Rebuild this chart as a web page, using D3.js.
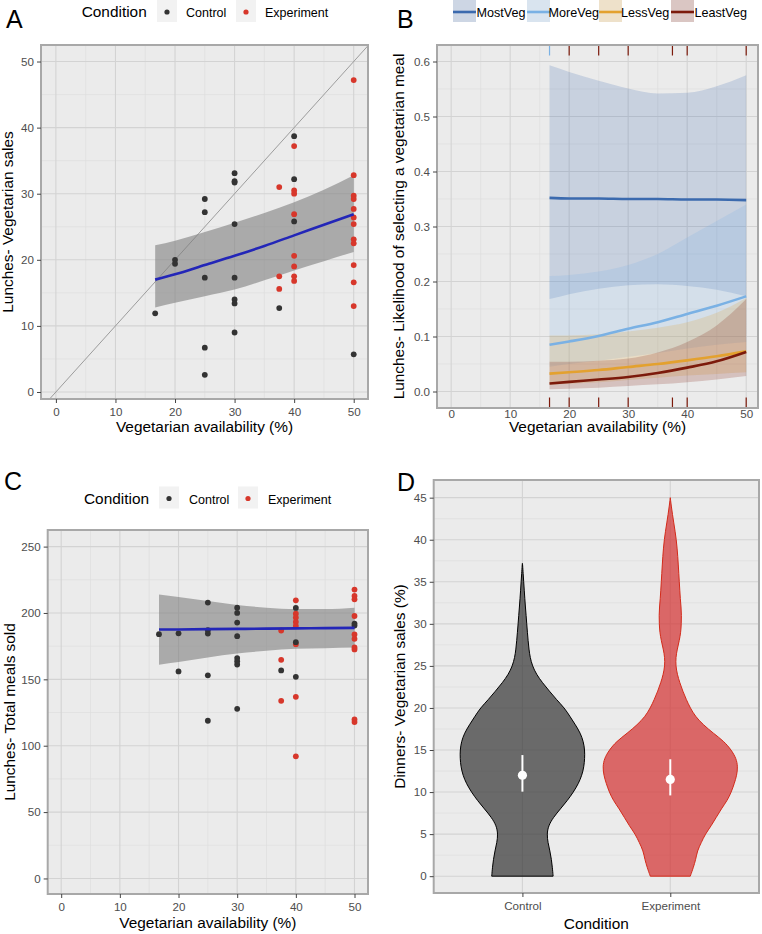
<!DOCTYPE html>
<html><head><meta charset="utf-8">
<script src="https://cdn.jsdelivr.net/npm/d3@7"></script>
<style>
body{margin:0;background:#fff}
svg{display:block}
text{font-family:"Liberation Sans",Arial,Helvetica,sans-serif}
</style>
</head><body>
<svg id="c" width="762" height="934"></svg>
<script>
// ---------------- DATA ----------------
const conditions = ["Control", "Experiment"];
const xTicks = [0, 10, 20, 30, 40, 50];

// Panel A: lunches vegetarian sales vs availability
const aCtrlX = [16.67,20,20,25,25,25,25,25,30,30,30,30,30,30,30,30,37.5,40,40,40,50];
const aCtrlY = [11.9,20.0,19.4,29.2,27.2,17.3,6.7,2.6,33.1,31.9,31.7,25.4,17.3,14.0,13.4,9.0,12.7,38.7,32.2,25.8,5.7];
const aExpX = [37.5,37.5,37.5,40,40,40,40,40,40,40,40,50,50,50,50,50,50,50,50,50,50,50,50];
const aExpY = [31.0,17.5,15.6,37.2,30.5,30.0,26.9,20.6,19.0,17.5,16.8,47.2,32.8,29.7,29.2,27.7,26.4,25.4,23.1,22.5,19.2,16.6,13.0];
const fitX = [16.67, 20, 25, 30, 35, 40, 45, 50];
const aFit = [17.0, 17.8, 19.2, 20.6, 22.1, 23.7, 25.3, 26.9];
const aHi  = [22.2, 22.9, 24.2, 25.6, 27.1, 28.7, 30.6, 32.8];
const aLo  = [12.8, 13.5, 14.5, 15.5, 16.9, 18.4, 19.8, 21.2];
const aYTicks = [0, 10, 20, 30, 40, 50];

// Panel B: likelihood of selecting a vegetarian meal
const groups = ["MostVeg", "MoreVeg", "LessVeg", "LeastVeg"];
const groupColors = ["#3b6aae", "#7ab1e4", "#e3a12f", "#7c1a0b"];
const bFit = {
  MostVeg:  [0.352, 0.351, 0.351, 0.350, 0.350, 0.349, 0.349, 0.348],
  MoreVeg:  [0.085, 0.091, 0.101, 0.114, 0.126, 0.141, 0.156, 0.173],
  LessVeg:  [0.0325, 0.035, 0.039, 0.0446, 0.050, 0.0566, 0.064, 0.073],
  LeastVeg: [0.0145, 0.0175, 0.0217, 0.0265, 0.0338, 0.0434, 0.0548, 0.0718]
};
const bHi = {
  MostVeg:  [0.593, 0.581, 0.565, 0.551, 0.542, 0.543, 0.555, 0.575],
  MoreVeg:  [0.210, 0.212, 0.218, 0.230, 0.250, 0.280, 0.310, 0.340],
  LessVeg:  [0.102, 0.102, 0.104, 0.109, 0.116, 0.126, 0.143, 0.170],
  LeastVeg: [0.054, 0.054, 0.056, 0.060, 0.071, 0.090, 0.120, 0.168]
};
const bLo = {
  MostVeg:  [0.168, 0.177, 0.187, 0.193, 0.195, 0.192, 0.185, 0.173],
  MoreVeg:  [0.045, 0.050, 0.056, 0.063, 0.070, 0.078, 0.085, 0.090],
  LessVeg:  [0.012, 0.014, 0.017, 0.021, 0.025, 0.029, 0.032, 0.035],
  LeastVeg: [0.004, 0.005, 0.007, 0.010, 0.013, 0.017, 0.022, 0.028]
};
const rugX = [16.67, 20, 25, 30, 37.5, 40, 50];
const rugTopGroup = ["MoreVeg", "LeastVeg", "LeastVeg", "LeastVeg", "LeastVeg", "LeastVeg", "LeastVeg"];
const rugBottomGroup = ["LeastVeg", "LeastVeg", "LeastVeg", "LeastVeg", "LeastVeg", "LeastVeg", "LeastVeg"];
const bYTicks = [0, 0.1, 0.2, 0.3, 0.4, 0.5, 0.6];

// Panel C: total meals sold
const cCtrlX = [16.67,20,20,25,25,25,25,25,30,30,30,30,30,30,30,30,37.5,40,40,40,50,50];
const cCtrlY = [184,184.7,156,207.8,187,184.5,153,118.8,204,200,192.8,182.5,166,163.7,161.2,127.8,156.7,203.8,178,151.9,192,190.5];
const cExpX = [37.5,37.5,37.5,40,40,40,40,40,40,40,40,50,50,50,50,50,50,50,50,50,50];
const cExpY = [186.8,164.7,133.8,209.5,199.5,196.5,193.2,190.2,176.5,136.8,92,217.6,212.8,210.3,197.7,183.8,180.5,174,172.5,119.8,117.8];
const cFit = [187.5, 187.6, 187.8, 188.0, 188.2, 188.4, 188.6, 188.8];
const cHi  = [214, 212, 209, 206, 204, 203, 203, 204];
const cLo  = [161, 163, 166.5, 169.5, 171.5, 173, 173.5, 174];
const cYTicks = [0, 50, 100, 150, 200, 250];

// Panel D: dinners vegetarian sales violins (density expressed as half-width units)
const ctrlViolinV = [0,1,2,3,4,5,6,7,8,9,10,11,12,13,14,15,16,17,18,19,20,21,22,23,24,25,26,27,28,29,30,31,32,33,34,35,36,37,37.2];
const ctrlViolinD = [30.7,30,29,27.5,25.5,24.5,26,31,38,45,51,56,59.5,61.5,62.3,62.3,61,58,53,47.5,42,34,27,20,14,10,7.7,6.5,5.7,5,4.3,3.7,3,2.4,1.8,1.3,0.7,0.2,0];
const expViolinV = [0,1,2,3,4,5,6,7,8,9,10,11,12,13,14,15,16,17,18,19,20,21,22,23,24,25,26,27,28,29,30,31,32,33,34,35,36,37,38,39,40,41,42,43,44,45];
const expViolinD = [20,23,25.5,27,31,35,41,46,51,57,61,64,66.5,67.5,66,61,54,43,33,25,20,16,12.5,9.5,7,5.5,5.5,7,9,10.5,11,11.2,10.8,10,9.5,9,8.5,8,7.5,6.8,6,4.8,3.5,2.2,1,0];
const dMean = [12.0, 11.5];
const dLow  = [10.05, 9.6];
const dHigh = [14.4, 13.9];
const dYTicks = [0, 5, 10, 15, 20, 25, 30, 35, 40, 45];

// ---------------- HELPERS ----------------
const svg = d3.select("#c");
const BG = "#ebebeb", GMAJ = "#d3d3d3", GMIN = "#dedede", BORDER = "#a8a8a8";
const TICKCOL = "#4d4d4d";
let clipId = 0;

function minorOf(ticks) {
  const out = [];
  for (let i = 0; i < ticks.length - 1; i++) out.push((ticks[i] + ticks[i+1]) / 2);
  return out;
}

function makePanel(box, x, y, xMajor, xMinor, yMajor, yMinor) {
  const g = svg.append("g");
  g.append("rect").attr("x", box.l).attr("y", box.t)
    .attr("width", box.r - box.l).attr("height", box.b - box.t).attr("fill", BG);
  g.selectAll(".hmin").data(yMinor).join("line")
    .attr("x1", box.l).attr("x2", box.r).attr("y1", d => y(d)).attr("y2", d => y(d))
    .attr("stroke", GMIN).attr("stroke-width", 0.7);
  g.selectAll(".vmin").data(xMinor).join("line")
    .attr("y1", box.t).attr("y2", box.b).attr("x1", d => x(d)).attr("x2", d => x(d))
    .attr("stroke", GMIN).attr("stroke-width", 0.7);
  g.selectAll(".hmaj").data(yMajor).join("line")
    .attr("x1", box.l).attr("x2", box.r).attr("y1", d => y(d)).attr("y2", d => y(d))
    .attr("stroke", GMAJ).attr("stroke-width", 1.1);
  g.selectAll(".vmaj").data(xMajor).join("line")
    .attr("y1", box.t).attr("y2", box.b).attr("x1", d => x(d)).attr("x2", d => x(d))
    .attr("stroke", GMAJ).attr("stroke-width", 1.1);
  const id = "clip" + (clipId++);
  svg.append("clipPath").attr("id", id).append("rect")
    .attr("x", box.l).attr("y", box.t).attr("width", box.r - box.l).attr("height", box.b - box.t);
  const content = g.append("g").attr("clip-path", `url(#${id})`);
  return {g, content};
}

function finishPanel(g, box, x, y, xTickVals, yTickVals, xFmt, yFmt, xTickSize = 4, xPad = 4.5) {
  g.append("rect").attr("x", box.l).attr("y", box.t)
    .attr("width", box.r - box.l).attr("height", box.b - box.t)
    .attr("fill", "none").attr("stroke", BORDER).attr("stroke-width", 2);
  const ax = g.append("g").attr("transform", `translate(0,${box.b})`)
    .call(d3.axisBottom(x).tickValues(xTickVals).tickSize(xTickSize).tickPadding(xPad).tickFormat(xFmt));
  const ay = g.append("g").attr("transform", `translate(${box.l},0)`)
    .call(d3.axisLeft(y).tickValues(yTickVals).tickSize(4).tickPadding(3).tickFormat(yFmt));
  [ax, ay].forEach(a => {
    a.select(".domain").remove();
    a.selectAll(".tick line").attr("stroke", "#444").attr("stroke-width", 1);
    a.selectAll(".tick text").attr("fill", TICKCOL).style("font-size", "11.6px")
      .style("font-family", '"Liberation Sans",Arial,sans-serif');
  });
}

function text(x, y, s, size, opts = {}) {
  const t = svg.append("text").attr("x", x).attr("y", y).text(s)
    .style("font-size", size + "px").attr("fill", opts.fill || "#000")
    .attr("text-anchor", opts.anchor || "start");
  if (opts.rotate) t.attr("transform", `rotate(-90,${x},${y})`);
  return t;
}

function condLegend(y0, xs) {
  text(xs[0], y0 + 17, "Condition", 15.4);
  const cols = ["#333333", "#d7372b"];
  [0, 1].forEach(i => {
    svg.append("rect").attr("x", xs[1 + 2*i]).attr("y", y0).attr("width", 20).attr("height", 22).attr("fill", "#f2f2f2");
    svg.append("circle").attr("cx", xs[1 + 2*i] + 10).attr("cy", y0 + 12).attr("r", 2.6).attr("fill", cols[i]);
    text(xs[2 + 2*i], y0 + 17, conditions[i], 12.5);
  });
}

const pointColor = {Control: "#333333", Experiment: "#d7372b"};
const fmtInt = d3.format("d");

// ---------------- PANEL A ----------------
{
  const box = {l: 41, r: 368, t: 45, b: 399};
  const x = d3.scaleLinear().domain([-2.5, 52.4]).range([box.l, box.r]);
  const y = d3.scaleLinear().domain([-1.06, 52.5]).range([box.b, box.t]);
  const {g, content} = makePanel(box, x, y, xTicks, minorOf(xTicks), aYTicks, minorOf(aYTicks));
  content.append("line").attr("x1", x(-5)).attr("y1", y(-5)).attr("x2", x(60)).attr("y2", y(60))
    .attr("stroke", "#9c9c9c").attr("stroke-width", 1);
  const band = fitX.map((v, i) => ({x: v, lo: aLo[i], hi: aHi[i], f: aFit[i]}));
  content.append("path").datum(band)
    .attr("d", d3.area().curve(d3.curveMonotoneX).x(d => x(d.x)).y0(d => y(d.lo)).y1(d => y(d.hi)))
    .attr("fill", "#7f7f7f").attr("opacity", 0.6);
  const pts = aExpX.map((v, i) => ({x: v, y: aExpY[i], c: "Experiment"}))
    .concat(aCtrlX.map((v, i) => ({x: v, y: aCtrlY[i], c: "Control"})));
  content.selectAll(".pt").data(pts).join("circle")
    .attr("cx", d => x(d.x)).attr("cy", d => y(d.y)).attr("r", 2.9).attr("fill", d => pointColor[d.c]);
  content.append("path").datum(band)
    .attr("d", d3.line().curve(d3.curveMonotoneX).x(d => x(d.x)).y(d => y(d.f)))
    .attr("fill", "none").attr("stroke", "#2326b8").attr("stroke-width", 2.6);
  finishPanel(g, box, x, y, xTicks, aYTicks, fmtInt, fmtInt, 4, 4.5);
  text((box.l + box.r)/2, 432, "Vegetarian availability (%)", 15.4, {anchor: "middle"});
  text(13, (box.t + box.b)/2, "Lunches- Vegetarian sales", 15.4, {anchor: "middle", rotate: true});
  condLegend(0, [81.7, 157, 186, 236, 265]);
  text(6, 28.3, "A", 25);
}

// ---------------- PANEL B ----------------
{
  const box = {l: 437, r: 758, t: 45, b: 408};
  const x = d3.scaleLinear().domain([-2.4, 52.0]).range([box.l, box.r]);
  const y = d3.scaleLinear().domain([-0.03, 0.63]).range([box.b, box.t]);
  const {g, content} = makePanel(box, x, y, xTicks, minorOf(xTicks), bYTicks, minorOf(bYTicks));
  groups.forEach((gr, gi) => {
    const band = fitX.map((v, i) => ({x: v, lo: bLo[gr][i], hi: bHi[gr][i]}));
    content.append("path").datum(band)
      .attr("d", d3.area().curve(d3.curveMonotoneX).x(d => x(d.x)).y0(d => y(d.lo)).y1(d => y(d.hi)))
      .attr("fill", groupColors[gi]).attr("fill-opacity", 0.2);
  });
  groups.forEach((gr, gi) => {
    const ln = fitX.map((v, i) => ({x: v, f: bFit[gr][i]}));
    content.append("path").datum(ln)
      .attr("d", d3.line().curve(d3.curveMonotoneX).x(d => x(d.x)).y(d => y(d.f)))
      .attr("fill", "none").attr("stroke", groupColors[gi]).attr("stroke-width", 2.6);
  });
  const col = gname => groupColors[groups.indexOf(gname)];
  content.selectAll(".rt").data(rugX).join("line")
    .attr("x1", d => x(d)).attr("x2", d => x(d)).attr("y1", box.t).attr("y2", box.t + 10.5)
    .attr("stroke", (d, i) => col(rugTopGroup[i])).attr("stroke-width", 1.2);
  content.selectAll(".rb").data(rugX).join("line")
    .attr("x1", d => x(d)).attr("x2", d => x(d)).attr("y1", box.b - 10.5).attr("y2", box.b)
    .attr("stroke", (d, i) => col(rugBottomGroup[i])).attr("stroke-width", 1.2);
  finishPanel(g, box, x, y, xTicks, bYTicks, fmtInt, d3.format(".1f"), 0, 1.5);
  text((box.l + box.r)/2, 432, "Vegetarian availability (%)", 15.4, {anchor: "middle"});
  text(403.5, (box.t + box.b)/2, "Lunches- Likelihood of selecting a vegetarian meal", 15.4, {anchor: "middle", rotate: true});
  const keyX = [453, 527, 599, 671];
  const labX = [476.5, 548.5, 621, 694.5];
  groups.forEach((gr, gi) => {
    svg.append("rect").attr("x", keyX[gi]).attr("y", 0).attr("width", 23).attr("height", 22)
      .attr("fill", "#f2f2f2");
    svg.append("rect").attr("x", keyX[gi]).attr("y", 0).attr("width", 23).attr("height", 22)
      .attr("fill", groupColors[gi]).attr("fill-opacity", 0.2);
    svg.append("line").attr("x1", keyX[gi]).attr("x2", keyX[gi] + 23).attr("y1", 12).attr("y2", 12)
      .attr("stroke", groupColors[gi]).attr("stroke-width", 2.6);
    text(labX[gi], 17.3, gr, 12.6);
  });
  text(397, 28.3, "B", 25);
}

// ---------------- PANEL C ----------------
{
  const box = {l: 47.7, r: 368, t: 530, b: 894};
  const x = d3.scaleLinear().domain([-2.3, 52.3]).range([box.l, box.r]);
  const y = d3.scaleLinear().domain([-11.7, 262.5]).range([box.b, box.t]);
  const {g, content} = makePanel(box, x, y, xTicks, minorOf(xTicks), cYTicks, minorOf(cYTicks));
  const band = fitX.map((v, i) => ({x: v, lo: cLo[i], hi: cHi[i], f: cFit[i]}));
  content.append("path").datum(band)
    .attr("d", d3.area().curve(d3.curveMonotoneX).x(d => x(d.x)).y0(d => y(d.lo)).y1(d => y(d.hi)))
    .attr("fill", "#7f7f7f").attr("opacity", 0.6);
  const pts = cExpX.map((v, i) => ({x: v, y: cExpY[i], c: "Experiment"}))
    .concat(cCtrlX.map((v, i) => ({x: v, y: cCtrlY[i], c: "Control"})));
  content.selectAll(".pt").data(pts).join("circle")
    .attr("cx", d => x(d.x)).attr("cy", d => y(d.y)).attr("r", 2.9).attr("fill", d => pointColor[d.c]);
  content.append("path").datum(band)
    .attr("d", d3.line().curve(d3.curveMonotoneX).x(d => x(d.x)).y(d => y(d.f)))
    .attr("fill", "none").attr("stroke", "#2326b8").attr("stroke-width", 2.6);
  finishPanel(g, box, x, y, xTicks, cYTicks, fmtInt, fmtInt);
  text((box.l + box.r)/2, 928, "Vegetarian availability (%)", 15.4, {anchor: "middle"});
  text(15, (box.t + box.b)/2, "Lunches- Total meals sold", 15.4, {anchor: "middle", rotate: true});
  condLegend(486.5, [84, 159, 189, 238, 268]);
  text(4, 490, "C", 25);
}

// ---------------- PANEL D ----------------
{
  const box = {l: 433.7, r: 759, t: 480, b: 893};
  const x = d3.scalePoint().domain(conditions).range([box.l, box.r]).padding(0.6);
  const y = d3.scaleLinear().domain([-2.0, 47.1]).range([box.b, box.t]);
  const {g, content} = makePanel(box, x, y, conditions, [], dYTicks, minorOf(dYTicks));
  const w = d3.scaleLinear().domain([0, 67.5]).range([0, 67.5]);
  const fills = ["#333333", "#d32f2f"], strokes = ["#000000", "#d32a1a"];
  const sets = [
    ctrlViolinV.map((v, i) => ({v, d: ctrlViolinD[i]})),
    expViolinV.map((v, i) => ({v, d: expViolinD[i]}))
  ];
  conditions.forEach((c, ci) => {
    const cx = x(c);
    content.append("path").datum(sets[ci])
      .attr("d", d3.area().curve(d3.curveBasis).y(d => y(d.v)).x0(d => cx - w(d.d)).x1(d => cx + w(d.d)))
      .attr("fill", fills[ci]).attr("fill-opacity", 0.7)
      .attr("stroke", strokes[ci]).attr("stroke-width", 1);
    content.append("line").attr("x1", cx).attr("x2", cx).attr("y1", y(dLow[ci])).attr("y2", y(dHigh[ci]))
      .attr("stroke", "#fff").attr("stroke-width", 2);
    content.append("circle").attr("cx", cx).attr("cy", y(dMean[ci])).attr("r", 4.6).attr("fill", "#fff");
  });
  finishPanel(g, box, x, y, conditions, dYTicks, d => d, fmtInt);
  text((box.l + box.r)/2, 929, "Condition", 15.4, {anchor: "middle"});
  text(405, (box.t + box.b)/2, "Dinners- Vegetarian sales (%)", 15.4, {anchor: "middle", rotate: true});
  text(397, 490.5, "D", 25);
}
</script>
</body></html>
